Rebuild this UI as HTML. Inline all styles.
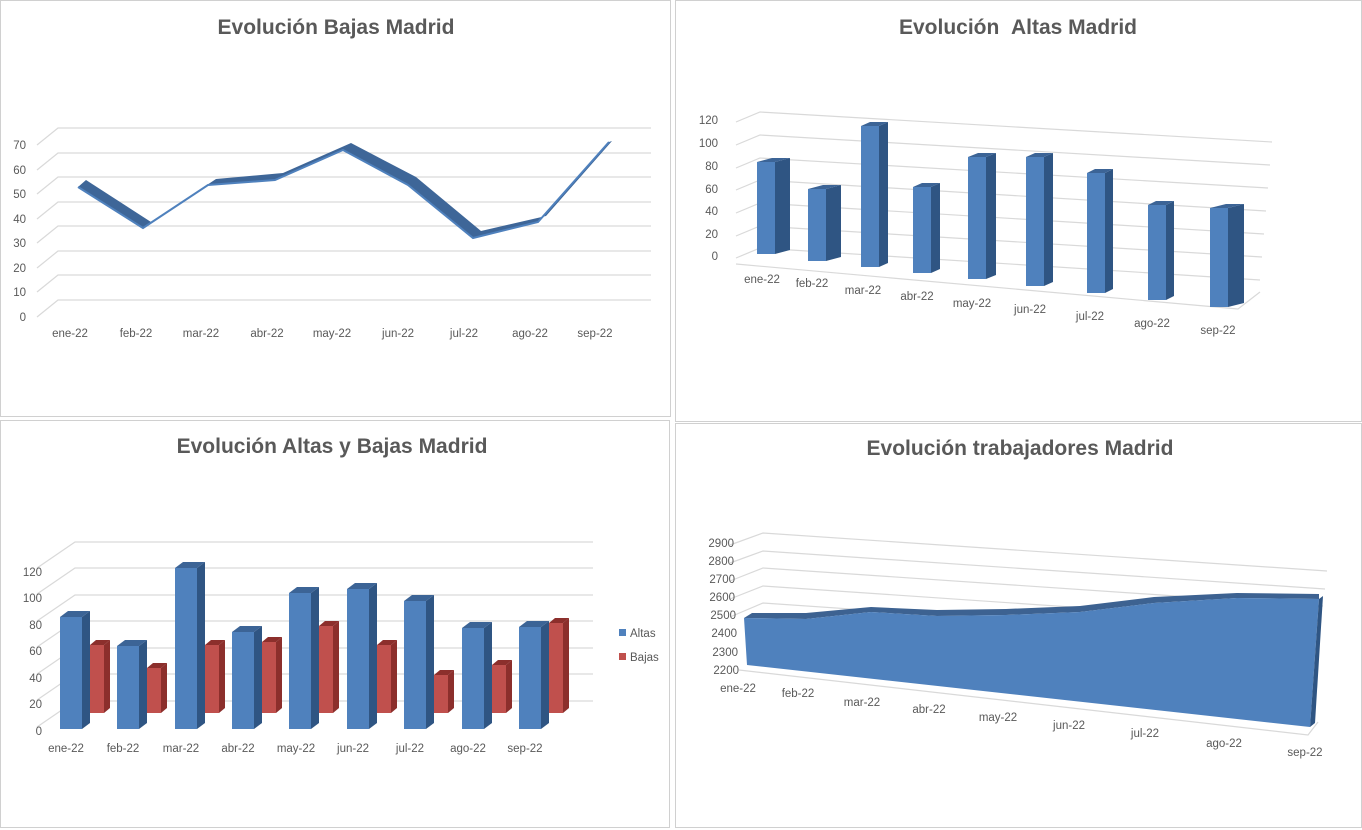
<!DOCTYPE html>
<html><head><meta charset="utf-8"><style>
body{margin:0;background:#fff;}
svg{display:block;font-family:"Liberation Sans",sans-serif;}
.t{font-size:21px;font-weight:bold;fill:#595959;text-anchor:middle}
.l{font-size:11.5px;fill:#595959}
.g{stroke:#d9d9d9;stroke-width:1.2;fill:none}
</style></head><body>
<svg width="1362" height="830" viewBox="0 0 1362 830">
<rect x="0.5" y="0.5" width="670" height="416" fill="#fff" stroke="#d0d0d0"/>
<rect x="675.5" y="0.5" width="686" height="421" fill="#fff" stroke="#d0d0d0"/>
<rect x="0.5" y="420.5" width="669" height="407" fill="#fff" stroke="#d0d0d0"/>
<rect x="675.5" y="423.5" width="686" height="404" fill="#fff" stroke="#d0d0d0"/>

<!-- Chart 1 -->
<text class="t" x="336" y="34">Evolución Bajas Madrid</text>
<g class="g">
<path d="M37 145 L58 128 H651"/><path d="M37 170 L58 153 H651"/><path d="M37 194 L58 177 H651"/><path d="M37 219 L58 202 H651"/><path d="M37 243 L58 226 H651"/><path d="M37 268 L58 251 H651"/><path d="M37 292 L58 275 H651"/><path d="M37 317 L58 300 H651"/>
</g>
<g class="l" text-anchor="end">
<text x="26" y="149">70</text><text x="26" y="174">60</text><text x="26" y="198">50</text><text x="26" y="223">40</text><text x="26" y="247">30</text><text x="26" y="272">20</text><text x="26" y="296">10</text><text x="26" y="321">0</text>
</g>
<polygon points="78,187 143,228 208,185 275,180 343,150 408,185 473,238 538,222 609,142 612,141 546,216 481,231 416,177 351,143 283,173 216,179 151,222 86,180" fill="#3e6698"/>
<polyline points="78,187 143,228 208,185 275,180 343,150 408,185 473,238 538,222 609,142" fill="none" stroke="#4f81bd" stroke-width="2"/>
<g class="l" text-anchor="middle">
<text x="70" y="337">ene-22</text><text x="136" y="337">feb-22</text><text x="201" y="337">mar-22</text><text x="267" y="337">abr-22</text><text x="332" y="337">may-22</text><text x="398" y="337">jun-22</text><text x="464" y="337">jul-22</text><text x="530" y="337">ago-22</text><text x="595" y="337">sep-22</text>
</g>

<!-- Chart 2 -->
<text class="t" x="1018" y="34">Evolución &#160;Altas Madrid</text>
<g class="g">
<path d="M736 122 L760 112 L1272 142"/><path d="M736 145 L760 135 L1270 165"/><path d="M736 168 L760 158 L1268 188"/><path d="M736 190 L760 180 L1266 211"/><path d="M736 213 L760 203 L1264 234"/><path d="M736 236 L760 226 L1262 257"/><path d="M736 258 L760 248 L1260 280"/>
<path d="M736 264 L1238 309 L1260 292"/>
</g>
<g class="l" text-anchor="end">
<text x="718" y="124">120</text><text x="718" y="147">100</text><text x="718" y="170">80</text><text x="718" y="193">60</text><text x="718" y="215">40</text><text x="718" y="238">20</text><text x="718" y="260">0</text>
</g>
<g>
<g fill="#4f81bd">
<rect x="757" y="162" width="18" height="92"/><rect x="808" y="189" width="18" height="72"/><rect x="861" y="126" width="18" height="141"/><rect x="913" y="187" width="18" height="86"/><rect x="968" y="157" width="18" height="122"/><rect x="1026" y="157" width="18" height="129"/><rect x="1087" y="173" width="18" height="120"/><rect x="1148" y="205" width="18" height="95"/><rect x="1210" y="208" width="18" height="99"/>
</g>
<g fill="#2f5583">
<polygon points="775,162 790,158 790,250 775,254"/><polygon points="826,189 841,185 841,257 826,261"/><polygon points="879,126 888,122 888,263 879,267"/><polygon points="931,187 940,183 940,269 931,273"/><polygon points="986,157 996,153 996,275 986,279"/><polygon points="1044,157 1053,153 1053,282 1044,286"/><polygon points="1105,173 1113,169 1113,289 1105,293"/><polygon points="1166,205 1174,201 1174,296 1166,300"/><polygon points="1228,208 1244,204 1244,303 1228,307"/>
</g>
<g fill="#3c6496">
<polygon points="757,162 775,162 790,158 772,158"/><polygon points="808,189 826,189 841,185 823,185"/><polygon points="861,126 879,126 888,122 870,122"/><polygon points="913,187 931,187 940,183 922,183"/><polygon points="968,157 986,157 996,153 978,153"/><polygon points="1026,157 1044,157 1053,153 1035,153"/><polygon points="1087,173 1105,173 1113,169 1095,169"/><polygon points="1148,205 1166,205 1174,201 1156,201"/><polygon points="1210,208 1228,208 1244,204 1226,204"/>
</g>
</g>
<g class="l" text-anchor="middle">
<text x="762" y="283">ene-22</text><text x="812" y="287">feb-22</text><text x="863" y="294">mar-22</text><text x="917" y="300">abr-22</text><text x="972" y="307">may-22</text><text x="1030" y="313">jun-22</text><text x="1090" y="320">jul-22</text><text x="1152" y="327">ago-22</text><text x="1218" y="334">sep-22</text>
</g>

<!-- Chart 3 -->
<text class="t" x="332" y="453">Evolución Altas y Bajas Madrid</text>
<g class="g">
<path d="M37 568 L75 542 H593"/><path d="M37 594 L75 568 H593"/><path d="M37 621 L75 595 H593"/><path d="M37 647 L75 621 H593"/><path d="M37 674 L75 648 H593"/><path d="M37 700 L75 674 H593"/><path d="M37 727 L75 701 H593"/>
</g>
<g class="l" text-anchor="end">
<text x="42" y="576">120</text><text x="42" y="602">100</text><text x="42" y="629">80</text><text x="42" y="655">60</text><text x="42" y="682">40</text><text x="42" y="708">20</text><text x="42" y="735">0</text>
</g>
<g>
<g fill="#c0504d">
<rect x="90" y="645" width="14" height="68"/><rect x="147" y="668" width="14" height="45"/><rect x="205" y="645" width="14" height="68"/><rect x="262" y="642" width="14" height="71"/><rect x="319" y="626" width="14" height="87"/><rect x="377" y="645" width="14" height="68"/><rect x="434" y="675" width="14" height="38"/><rect x="492" y="665" width="14" height="48"/><rect x="549" y="623" width="14" height="90"/>
</g>
<g fill="#8c2f2c">
<polygon points="104,645 110,640 110,708 104,713"/><polygon points="161,668 167,663 167,708 161,713"/><polygon points="219,645 225,640 225,708 219,713"/><polygon points="276,642 282,637 282,708 276,713"/><polygon points="333,626 339,621 339,708 333,713"/><polygon points="391,645 397,640 397,708 391,713"/><polygon points="448,675 454,670 454,708 448,713"/><polygon points="506,665 512,660 512,708 506,713"/><polygon points="563,623 569,618 569,708 563,713"/>
<polygon points="90,645 104,645 110,640 96,640"/><polygon points="147,668 161,668 167,663 153,663"/><polygon points="205,645 219,645 225,640 211,640"/><polygon points="262,642 276,642 282,637 268,637"/><polygon points="319,626 333,626 339,621 325,621"/><polygon points="377,645 391,645 397,640 383,640"/><polygon points="434,675 448,675 454,670 440,670"/><polygon points="492,665 506,665 512,660 498,660"/><polygon points="549,623 563,623 569,618 555,618"/>
</g>
</g>
<g>
<g fill="#4f81bd">
<rect x="60" y="617" width="22" height="112"/><rect x="117" y="646" width="22" height="83"/><rect x="175" y="568" width="22" height="161"/><rect x="232" y="632" width="22" height="97"/><rect x="289" y="593" width="22" height="136"/><rect x="347" y="589" width="22" height="140"/><rect x="404" y="601" width="22" height="128"/><rect x="462" y="628" width="22" height="101"/><rect x="519" y="627" width="22" height="102"/>
</g>
<g fill="#2f5583">
<polygon points="82,617 90,611 90,723 82,729"/><polygon points="139,646 147,640 147,723 139,729"/><polygon points="197,568 205,562 205,723 197,729"/><polygon points="254,632 262,626 262,723 254,729"/><polygon points="311,593 319,587 319,723 311,729"/><polygon points="369,589 377,583 377,723 369,729"/><polygon points="426,601 434,595 434,723 426,729"/><polygon points="484,628 492,622 492,723 484,729"/><polygon points="541,627 549,621 549,723 541,729"/>
</g>
<g fill="#3c6496">
<polygon points="60,617 82,617 90,611 68,611"/><polygon points="117,646 139,646 147,640 125,640"/><polygon points="175,568 197,568 205,562 183,562"/><polygon points="232,632 254,632 262,626 240,626"/><polygon points="289,593 311,593 319,587 297,587"/><polygon points="347,589 369,589 377,583 355,583"/><polygon points="404,601 426,601 434,595 412,595"/><polygon points="462,628 484,628 492,622 470,622"/><polygon points="519,627 541,627 549,621 527,621"/>
</g>
</g>
<g class="l" text-anchor="middle">
<text x="66" y="752">ene-22</text><text x="123" y="752">feb-22</text><text x="181" y="752">mar-22</text><text x="238" y="752">abr-22</text><text x="296" y="752">may-22</text><text x="353" y="752">jun-22</text><text x="410" y="752">jul-22</text><text x="468" y="752">ago-22</text><text x="525" y="752">sep-22</text>
</g>
<rect x="619" y="629" width="7" height="7" fill="#4f81bd"/><text class="l" x="630" y="637">Altas</text>
<rect x="619" y="653" width="7" height="7" fill="#c0504d"/><text class="l" x="630" y="661">Bajas</text>

<!-- Chart 4 -->
<text class="t" x="1020" y="455">Evolución trabajadores Madrid</text>
<g class="g">
<path d="M730 545 L763 533 L1327 571"/><path d="M730 563 L763 551 L1325 589"/><path d="M730 581 L763 568 L1323 606"/><path d="M730 599 L763 586 L1321 624"/><path d="M730 617 L763 603 L1320 641"/>
<path d="M739 670 L1308 735 L1318 722"/>
</g>
<g class="l" text-anchor="end">
<text x="734" y="547">2900</text><text x="734" y="565">2800</text><text x="735" y="583">2700</text><text x="735" y="601">2600</text><text x="736" y="619">2500</text><text x="737" y="637">2400</text><text x="738" y="656">2300</text><text x="739" y="674">2200</text>
</g>
<polygon points="744,618 806,619 871,612 937,616 1006,615 1080,612 1154,603 1237,598 1319,599 1319,594 1237,593 1154,597 1080,606 1006,609 937,610 871,607 806,613 752,613" fill="#3d6291"/>
<polygon points="744,618 806,619 871,612 937,616 1006,615 1080,612 1154,603 1237,598 1319,599 1310,727 747,665" fill="#4f81bd"/>
<polygon points="1319,599 1323,596 1315,723 1310,727" fill="#2f5583"/>
<g class="l" text-anchor="middle">
<text x="738" y="692">ene-22</text><text x="798" y="697">feb-22</text><text x="862" y="706">mar-22</text><text x="929" y="713">abr-22</text><text x="998" y="721">may-22</text><text x="1069" y="729">jun-22</text><text x="1145" y="737">jul-22</text><text x="1224" y="747">ago-22</text><text x="1305" y="756">sep-22</text>
</g>
</svg>
</body></html>
